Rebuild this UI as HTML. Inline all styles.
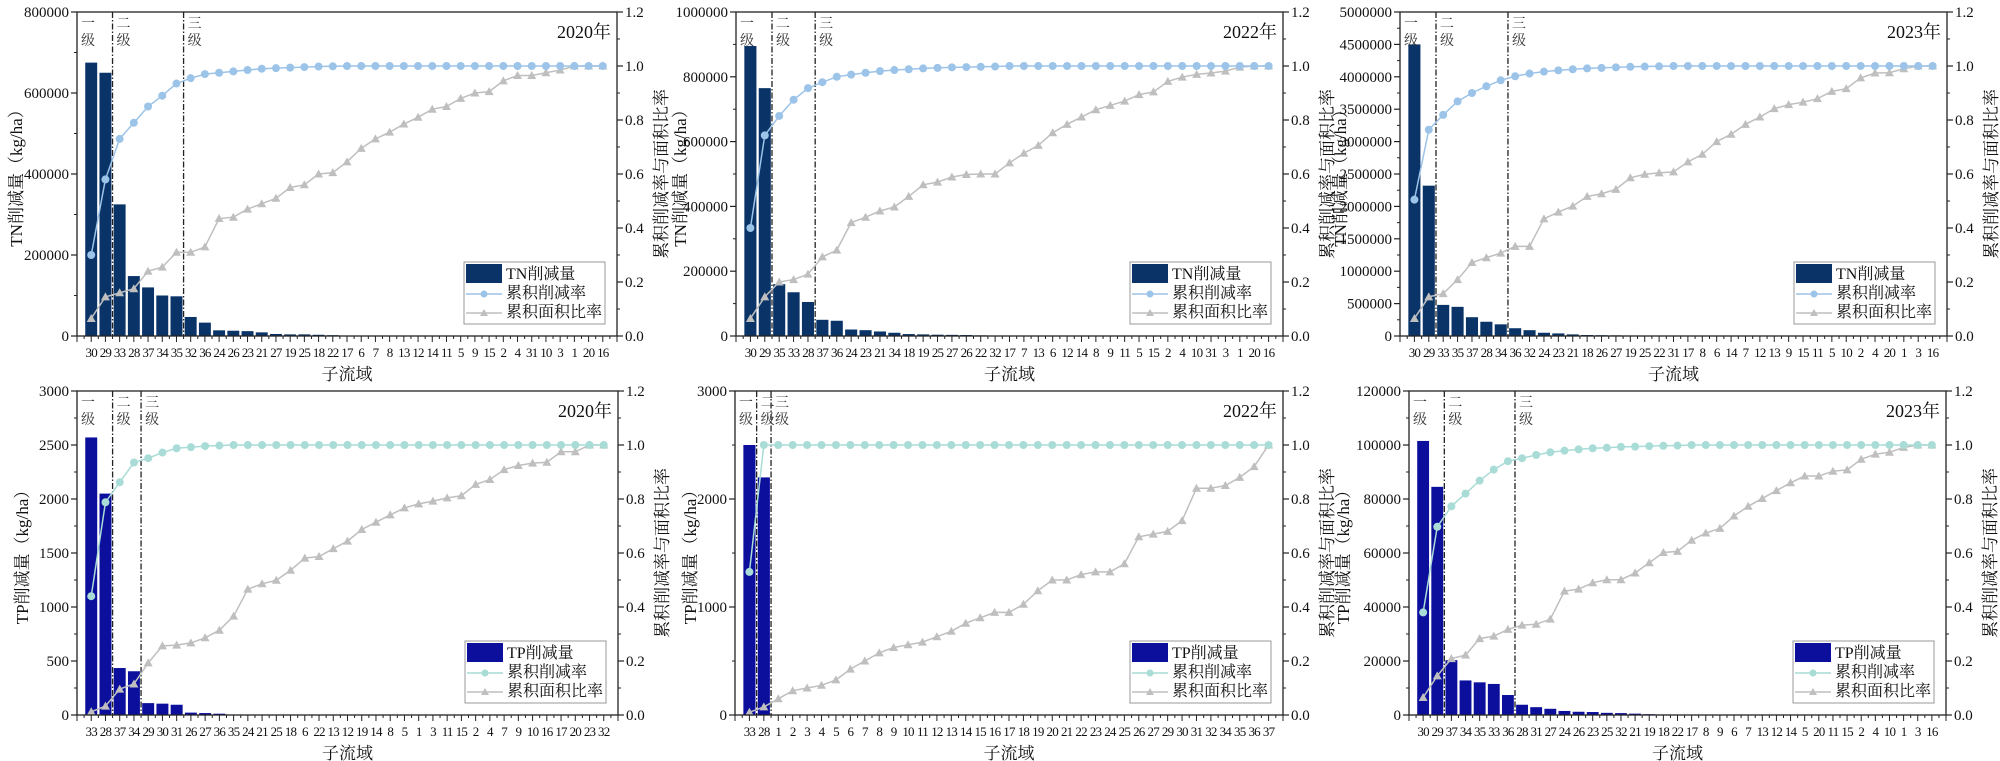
<!DOCTYPE html>
<html><head><meta charset="utf-8">
<style>
html,body{margin:0;padding:0;background:#fff;}
svg{display:block;font-family:"Liberation Serif","Noto Serif CJK SC","Noto Sans CJK SC",serif;}
</style></head>
<body>
<svg id="chart" width="2000" height="761" viewBox="0 0 2000 761" xmlns="http://www.w3.org/2000/svg"></svg>
<script>
// ---- data ----
const catsTN2020 = ["30","29","33","28","37","34","35","32","36","24","26","23","21","27","19","25","18","22","17","6","7","8","13","12","14","11","5","9","15","2","4","31","10","3","1","20","16"];
const barsTN2020 = [675000,650000,325000,148000,120000,100000,98000,47000,33000,14000,13000,12000,9000,5000,4000,4000,3000,2000,0,0,0,0,0,0,0,0,0,0,0,0,0,0,0,0,0,0,0];
const cumTN2020 = [0.30,0.58,0.73,0.79,0.85,0.89,0.935,0.955,0.97,0.975,0.98,0.985,0.99,0.992,0.994,0.996,0.998,0.999,1,1,1,1,1,1,1,1,1,1,1,1,1,1,1,1,1,1,1];
const areaTN2020 = [0.065,0.145,0.16,0.175,0.24,0.255,0.31,0.31,0.33,0.435,0.44,0.47,0.49,0.51,0.55,0.56,0.60,0.605,0.645,0.695,0.73,0.755,0.785,0.81,0.84,0.85,0.88,0.90,0.905,0.945,0.965,0.965,0.975,0.985,1,1,1];

const catsTN2022 = ["30","29","35","33","28","37","36","24","23","21","34","18","19","25","27","26","22","32","17","7","13","6","12","14","8","9","11","5","15","2","4","10","31","3","1","20","16"];
const barsTN2022 = [895000,765000,160000,135000,105000,50000,47000,20000,18000,14000,10000,6000,5000,4000,3500,3000,2000,1500,0,0,0,0,0,0,0,0,0,0,0,0,0,0,0,0,0,0,0];
const cumTN2022 = [0.40,0.743,0.815,0.875,0.918,0.94,0.96,0.968,0.975,0.981,0.985,0.988,0.991,0.993,0.995,0.996,0.997,0.998,1,1,1,1,1,1,1,1,1,1,1,1,1,1,1,1,1,1,1];
const areaTN2022 = [0.065,0.145,0.20,0.209,0.229,0.293,0.318,0.42,0.44,0.463,0.478,0.517,0.56,0.57,0.589,0.598,0.60,0.60,0.641,0.677,0.706,0.753,0.784,0.811,0.838,0.854,0.870,0.894,0.904,0.943,0.959,0.969,0.974,0.981,0.996,1,1];

const catsTN2023 = ["30","29","33","35","37","28","34","36","32","24","23","21","18","26","27","19","25","22","31","17","8","6","14","7","12","13","9","15","11","5","10","2","4","20","1","3","16"];
const barsTN2023 = [4500000,2320000,480000,450000,290000,220000,180000,120000,90000,50000,40000,25000,15000,12000,10000,8000,6000,4000,0,0,0,0,0,0,0,0,0,0,0,0,0,0,0,0,0,0,0];
const cumTN2023 = [0.505,0.764,0.819,0.869,0.90,0.925,0.947,0.962,0.972,0.979,0.984,0.988,0.991,0.993,0.995,0.997,0.998,0.999,1,1,1,1,1,1,1,1,1,1,1,1,1,1,1,1,1,1,1];
const areaTN2023 = [0.065,0.145,0.157,0.209,0.272,0.29,0.307,0.332,0.332,0.434,0.459,0.481,0.517,0.527,0.543,0.586,0.599,0.604,0.608,0.645,0.673,0.72,0.747,0.784,0.811,0.842,0.857,0.866,0.879,0.906,0.916,0.956,0.974,0.975,0.99,1,1];

const catsTP2020 = ["33","28","37","34","29","30","31","26","27","36","35","24","21","25","18","6","22","13","12","19","14","8","5","1","3","11","15","2","4","7","9","10","16","17","20","23","32"];
const barsTP2020 = [2570,2050,435,405,110,105,95,22,18,12,0,0,0,0,0,0,0,0,0,0,0,0,0,0,0,0,0,0,0,0,0,0,0,0,0,0,0];
const cumTP2020 = [0.44,0.788,0.862,0.935,0.951,0.972,0.988,0.992,0.996,0.998,1,1,1,1,1,1,1,1,1,1,1,1,1,1,1,1,1,1,1,1,1,1,1,1,1,1,1];
const areaTP2020 = [0.012,0.033,0.096,0.115,0.193,0.256,0.259,0.267,0.286,0.314,0.366,0.466,0.486,0.499,0.536,0.581,0.587,0.616,0.644,0.687,0.714,0.741,0.767,0.782,0.792,0.804,0.812,0.854,0.872,0.909,0.924,0.933,0.936,0.975,0.975,1,1];

const catsTP2022 = ["33","28","1","2","3","4","5","6","7","8","9","10","11","12","13","14","15","16","17","18","19","20","21","22","23","24","25","26","27","29","30","31","32","34","35","36","37"];
const barsTP2022 = [2500,2200,0,0,0,0,0,0,0,0,0,0,0,0,0,0,0,0,0,0,0,0,0,0,0,0,0,0,0,0,0,0,0,0,0,0,0];
const cumTP2022 = [0.53,1,1,1,1,1,1,1,1,1,1,1,1,1,1,1,1,1,1,1,1,1,1,1,1,1,1,1,1,1,1,1,1,1,1,1,1];
const areaTP2022 = [0.01,0.03,0.06,0.09,0.10,0.11,0.13,0.17,0.20,0.23,0.25,0.26,0.27,0.29,0.31,0.34,0.36,0.38,0.38,0.41,0.46,0.50,0.50,0.52,0.53,0.53,0.56,0.66,0.67,0.68,0.72,0.84,0.84,0.85,0.88,0.92,1.0];

const catsTP2023 = ["30","29","37","34","35","33","36","28","31","27","24","26","23","25","32","21","19","18","22","17","8","9","6","7","13","12","14","5","20","11","15","2","4","10","1","3","16"];
const barsTP2023 = [101500,84500,20300,12800,12100,11500,7400,3800,2900,2300,1500,1200,1100,800,700,500,300,200,100,0,0,0,0,0,0,0,0,0,0,0,0,0,0,0,0,0,0];
const cumTP2023 = [0.38,0.697,0.773,0.82,0.868,0.909,0.94,0.951,0.963,0.973,0.979,0.984,0.988,0.99,0.993,0.994,0.996,0.997,0.998,1,1,1,1,1,1,1,1,1,1,1,1,1,1,1,1,1,1];
const areaTP2023 = [0.065,0.145,0.209,0.222,0.283,0.292,0.317,0.333,0.336,0.355,0.459,0.466,0.49,0.501,0.501,0.526,0.564,0.602,0.606,0.647,0.674,0.691,0.737,0.773,0.802,0.831,0.86,0.885,0.885,0.903,0.908,0.947,0.966,0.973,0.991,1,1];

const ticksTN2020 = [0,200000,400000,600000,800000];
const ticksTN2022 = [0,200000,400000,600000,800000,1000000];
const ticksTN2023 = [0,500000,1000000,1500000,2000000,2500000,3000000,3500000,4000000,4500000,5000000];
const ticksTP2020 = [0,500,1000,1500,2000,2500,3000];
const ticksTP2022 = [0,1000,2000,3000];
const ticksTP2023 = [0,20000,40000,60000,80000,100000,120000];
const ticksRight = [0,0.2,0.4,0.6,0.8,1.0,1.2];
const rightLabels = ["0.0","0.2","0.4","0.6","0.8","1.0","1.2"];
const dividersTN2020 = [1,6], dividersTN2022=[1,4], dividersTN2023=[1,6];
const dividersTP2020 = [1,3], dividersTP2022=[0,1], dividersTP2023=[1,6];

const NS="http://www.w3.org/2000/svg";
const svg=document.getElementById('chart');
function mk(tag,attrs,parent){const e=document.createElementNS(NS,tag);for(const k in attrs)e.setAttribute(k,attrs[k]);(parent||svg).appendChild(e);return e;}

function panel(cfg){
  const g=mk('g',{});
  
  
  const L=cfg.x0,R=cfg.x1,T=cfg.y0,B=cfg.y1,W=R-L,H=B-T,n=cfg.cats.length;
  const xs=i=>L+(i+1)*W/(n+1);
  const yl=v=>B-v/cfg.ymax*H;
  const yr=v=>B-v/1.2*H;
  const step=W/(n+1);
  cfg.bars.forEach((v,i)=>{
    if(v<=0)return;
    const r=mk('rect',{x:xs(i)-step*0.42,y:yl(v),width:step*0.84,height:B-yl(v),fill:cfg.barColor},g);
    
    
  });
  cfg.divs.forEach((d,k)=>{
    const x=(xs(d)+xs(d+1))/2;
    const l=mk('line',{x1:x,x2:x,y1:T,y2:B,stroke:'#222','stroke-width':1.3,'stroke-dasharray':'6,2,1.5,2'},g);
    
    
  });
  const starts=[L,(xs(cfg.divs[0])+xs(cfg.divs[0]+1))/2,(xs(cfg.divs[1])+xs(cfg.divs[1]+1))/2];
  ['一','二','三'].forEach((c,k)=>{
    const t=mk('text',{x:starts[k]+4,y:T+16,'font-size':14,fill:'#333'},g);t.textContent=c;
    
    
    const t2=mk('text',{x:starts[k]+4,y:T+33,'font-size':14,fill:'#333'},g);t2.textContent='级';
    
    
  });
  function series(vals,color,marker,nm){
    const pts=vals.map((v,i)=>xs(i)+','+yr(v)).join(' ');
    const pl=mk('polyline',{points:pts,fill:'none',stroke:color,'stroke-width':1.5},g);
    
    
    vals.forEach((v,i)=>{
      let m;
      if(marker==='c'){m=mk('circle',{cx:xs(i),cy:yr(v),r:4,fill:color},g);}
      else{const x=xs(i),y=yr(v);m=mk('polygon',{points:`${x},${y-4.5} ${x-4.5},${y+3.5} ${x+4.5},${y+3.5}`,fill:color},g);}
      
      
    });
  }
  series(cfg.area,'#bfbfbf','t','area-ratio');
  series(cfg.cum,cfg.cumColor,'c','cum-rate');
  const fr=mk('rect',{x:L,y:T,width:W,height:H,fill:'none',stroke:'#222','stroke-width':1.3},g);
  
  
  cfg.ticks.forEach((v,k)=>{
    const y=yl(v);
    mk('line',{x1:L-6,x2:L,y1:y,y2:y,stroke:'#222','stroke-width':1.2},g);
    if(k<cfg.ticks.length-1){const ym=yl((v+cfg.ticks[k+1])/2);mk('line',{x1:L-3,x2:L,y1:ym,y2:ym,stroke:'#222','stroke-width':1},g);}
    const t=mk('text',{x:L-8,y:y+5,'font-size':15,'text-anchor':'end',fill:'#111'},g);t.textContent=String(v);
    
    
  });
  ticksRight.forEach((v,k)=>{
    const y=yr(v);
    mk('line',{x1:R,x2:R+6,y1:y,y2:y,stroke:'#222','stroke-width':1.2},g);
    if(k<ticksRight.length-1){const ym=yr(v+0.1);mk('line',{x1:R,x2:R+3,y1:ym,y2:ym,stroke:'#222','stroke-width':1},g);}
    const t=mk('text',{x:R+8,y:y+5,'font-size':15,fill:'#111'},g);t.textContent=rightLabels[k];
    
    
  });
  for(let i=0;i<=n+1;i++){
    const x=L+i*step;mk('line',{x1:x,x2:x,y1:B,y2:B+6,stroke:'#222','stroke-width':1},g);
    if(i<=n){const xm=x+step/2;mk('line',{x1:xm,x2:xm,y1:B,y2:B+3,stroke:'#222','stroke-width':1},g);}
  }
  cfg.cats.forEach((c,i)=>{
    const t=mk('text',{x:xs(i),y:B+21,'font-size':13,'text-anchor':'middle',fill:'#111','letter-spacing':'-0.8'},g);t.textContent=c;
    
    
  });
  const xt=mk('text',{x:(L+R)/2,y:B+44,'font-size':17,'text-anchor':'middle',fill:'#111'},g);xt.textContent='子流域';
  
  
  const yt=mk('text',{x:0,y:0,'font-size':17,'text-anchor':'middle',fill:'#111',transform:`translate(${cfg.ytx},${(T+B)/2}) rotate(-90)`},g);yt.textContent=cfg.ytitle;
  
  
  const yt2=mk('text',{x:0,y:0,'font-size':17,'text-anchor':'middle',fill:'#111',transform:`translate(${R+50},${(T+B)/2}) rotate(-90)`},g);yt2.textContent='累积削减率与面积比率';
  
  
  const yr_=mk('text',{x:R-6,y:T+26,'font-size':18,'text-anchor':'end',fill:'#111'},g);yr_.textContent=cfg.year;
  
  
  const lg=mk('g',{},g);
  
  
  const lx=R-153,ly=B-74;
  mk('rect',{x:lx,y:ly,width:141,height:62,fill:'#fff',stroke:'#999','stroke-width':1},lg);
  mk('rect',{x:lx+2,y:ly+2,width:36,height:19,fill:cfg.barColor},lg);
  mk('line',{x1:lx+2,x2:lx+38,y1:ly+32,y2:ly+32,stroke:cfg.cumColor,'stroke-width':1.5},lg);
  mk('circle',{cx:lx+20,cy:ly+32,r:3.5,fill:cfg.cumColor},lg);
  mk('line',{x1:lx+2,x2:lx+38,y1:ly+51,y2:ly+51,stroke:'#bfbfbf','stroke-width':1.5},lg);
  mk('polygon',{points:`${lx+20},${ly+47} ${lx+16},${ly+54} ${lx+24},${ly+54}`,fill:'#bfbfbf'},lg);
  [cfg.barName,'累积削减率','累积面积比率'].forEach((s,k)=>{
    const t=mk('text',{x:lx+42,y:ly+17+k*19,'font-size':16,fill:'#111'},lg);t.textContent=s;
    
    
  });
}
const TNc='#0a3467',TPc='#0b0f9c',TNl='#9cc3e8',TPl='#a9dcd6';
panel({name:'panel-tn-2020',x0:77,x1:617,y0:12,y1:336,cats:catsTN2020,bars:barsTN2020,cum:cumTN2020,area:areaTN2020,ymax:800000,ticks:ticksTN2020,divs:dividersTN2020,barColor:TNc,cumColor:TNl,year:'2020年',ytitle:'TN削减量（kg/ha）',ytx:22,barName:'TN削减量'});
panel({name:'panel-tn-2022',x0:736,x1:1283,y0:12,y1:336,cats:catsTN2022,bars:barsTN2022,cum:cumTN2022,area:areaTN2022,ymax:1000000,ticks:ticksTN2022,divs:dividersTN2022,barColor:TNc,cumColor:TNl,year:'2022年',ytitle:'TN削减量（kg/ha）',ytx:686,barName:'TN削减量'});
panel({name:'panel-tn-2023',x0:1400,x1:1947,y0:12,y1:336,cats:catsTN2023,bars:barsTN2023,cum:cumTN2023,area:areaTN2023,ymax:5000000,ticks:ticksTN2023,divs:dividersTN2023,barColor:TNc,cumColor:TNl,year:'2023年',ytitle:'TN削减量（kg/ha）',ytx:1346,barName:'TN削减量'});
panel({name:'panel-tp-2020',x0:77,x1:618,y0:391,y1:715,cats:catsTP2020,bars:barsTP2020,cum:cumTP2020,area:areaTP2020,ymax:3000,ticks:ticksTP2020,divs:dividersTP2020,barColor:TPc,cumColor:TPl,year:'2020年',ytitle:'TP削减量（kg/ha）',ytx:28,barName:'TP削减量'});
panel({name:'panel-tp-2022',x0:735,x1:1283,y0:391,y1:715,cats:catsTP2022,bars:barsTP2022,cum:cumTP2022,area:areaTP2022,ymax:3000,ticks:ticksTP2022,divs:dividersTP2022,barColor:TPc,cumColor:TPl,year:'2022年',ytitle:'TP削减量（kg/ha）',ytx:696,barName:'TP削减量'});
panel({name:'panel-tp-2023',x0:1409,x1:1946,y0:391,y1:715,cats:catsTP2023,bars:barsTP2023,cum:cumTP2023,area:areaTP2023,ymax:120000,ticks:ticksTP2023,divs:dividersTP2023,barColor:TPc,cumColor:TPl,year:'2023年',ytitle:'TP削减量（kg/ha）',ytx:1349,barName:'TP削减量'});
</script>
</body></html>
